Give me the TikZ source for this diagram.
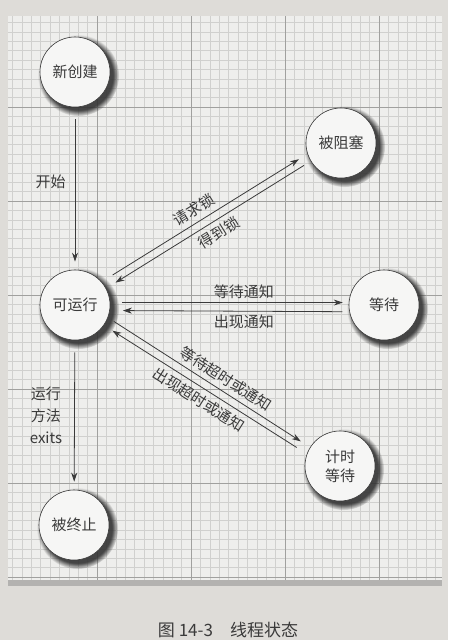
\documentclass[tikz,border=0pt]{standalone}
\usepackage{fontspec}
\newfontfamily\cjk{Noto Sans CJK SC}
\usetikzlibrary{arrows.meta,shadows}
\definecolor{pagegray}{RGB}{222,220,216}
\definecolor{papercol}{RGB}{238,238,236}
\definecolor{minorcol}{RGB}{208,208,206}
\definecolor{majorcol}{RGB}{160,160,158}
\definecolor{inkcol}{RGB}{58,58,58}

\begin{document}
\begin{tikzpicture}[x=1pt,y=-1pt]
	\tikzset{state/.style={circle,draw=inkcol,line width=0.6pt,fill=papercol!50!white,minimum size=70pt,inner sep=0pt,align=center,text=inkcol,font=\cjk\fontsize{15}{19}\selectfont,circular drop shadow={shadow xshift=3pt,shadow yshift=-3pt,shadow scale=1.16,opacity=0.9,fill=black!80}}}
	\tikzset{trans/.style={draw=inkcol,line width=0.8pt,-{Stealth[length=9pt,width=6pt]}}}
	\tikzset{elabel/.style={text=inkcol,font=\cjk\fontsize{15}{22}\selectfont,inner sep=3pt}}
	\tikzset{slabel/.style={elabel,sloped,inner sep=5pt}}
	\tikzset{minorline/.style={draw=minorcol,line width=0.35pt}}
	\tikzset{majorline/.style={draw=majorcol,line width=0.7pt}}
	\useasboundingbox (0,0) rectangle (448,640);
	\fill[pagegray] (0,0) rectangle (448,640);
	% grid paper
	\fill[papercol,drop shadow={shadow xshift=0pt,shadow yshift=-6pt,opacity=0.45}] (8,16) rectangle (442,580);
	\begin{scope}
	\clip (8,16) rectangle (442,580);
	\foreach \i in {0,...,46} \draw[minorline] ({3+9.4*\i},16) -- ({3+9.4*\i},580);
	\foreach \i in {0,...,60} \draw[minorline] (8,{13+9.4*\i}) -- (442,{13+9.4*\i});
	\foreach \i in {1,...,4} \draw[majorline] ({3+94*\i},16) -- ({3+94*\i},580);
	\foreach \i in {1,...,6} \draw[majorline] (8,{13+94*\i}) -- (442,{13+94*\i});
	\end{scope}
	\node[state] (new) at (75,72) {新创建};
	\node[state] (blk) at (341,143) {被阻塞};
	\node[state] (run) at (75,305) {可运行};
	\node[state] (wait) at (384,305) {等待};
	\node[state] (timed) at (340,466) {计时\\等待};
	\node[state] (term) at (74,525) {被终止};
	\draw[trans,shorten <=12pt,shorten >=8pt] (new) -- node[elabel,pos=0.46,left=6pt] {开始} (run);
	\draw[trans,shorten <=13pt,shorten >=10pt] (run.41) -- node[slabel,pos=0.48,above] {请求锁} (blk.198);
	\draw[trans,shorten <=8pt,shorten >=11pt] (blk.211) -- node[slabel,pos=0.48,below] {得到锁} (run.28);
	\draw[trans,shorten <=12pt,shorten >=6pt] (run.4) -- node[elabel,pos=0.56,above] {等待通知} (wait.176);
	\draw[trans,shorten <=7pt,shorten >=13pt] (wait.191) -- node[elabel,pos=0.44,below] {出现通知} (run.-9);
	\draw[trans,shorten <=7pt,shorten >=11pt] (run.-21) -- node[slabel,pos=0.55,above] {等待超时或通知} (timed.148);
	\draw[trans,shorten <=12pt,shorten >=10pt] (timed.160) -- node[slabel,pos=0.5,below] {出现超时或通知} (run.-35);
	\draw[trans,shorten <=12pt,shorten >=8pt] (run) -- node[elabel,pos=0.5,left=9pt,align=center] {运行\\方法\\exits} (term);
	\node[text=inkcol,font=\cjk\fontsize{17}{20}\selectfont] (caption) at (228,630) {图 14-3\quad 线程状态};
\end{tikzpicture}
\end{document}
